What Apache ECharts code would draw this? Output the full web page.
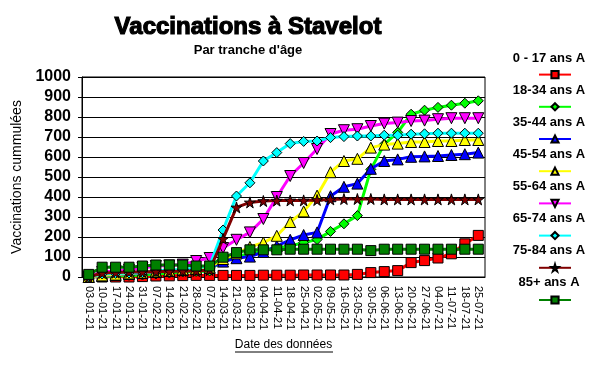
<!DOCTYPE html>
<html>
<head>
<meta charset="utf-8">
<script src="https://cdn.jsdelivr.net/npm/echarts@6/dist/echarts.min.js"></script>
<style>html,body{margin:0;padding:0;background:#fff;}#c{width:608px;height:368px;}</style>
</head>
<body>
<div id="c"></div>
<script>
const dates = ['03-01-21','10-01-21','17-01-21','24-01-21','31-01-21','07-02-21','14-02-21','21-02-21','28-02-21','07-03-21','14-03-21','21-03-21','28-03-21','04-04-21','11-04-21','18-04-21','25-04-21','02-05-21','09-05-21','16-05-21','23-05-21','30-05-21','06-06-21','13-06-21','20-06-21','27-06-21','04-07-21','11-07-21','18-07-21','25-07-21'];
const yTicks = [0,100,200,300,400,500,600,700,800,900,1000];
const seriesNames = ['0 - 17 ans A','18-34 ans A','35-44 ans A','45-54 ans A','55-64 ans A','65-74 ans A','75-84 ans A','85+ ans A'];
const age0_17  = [0,0,0,0,2,5,6,7,8,8, 8,8,8,9,9,9,10,10,10,10, 13,22,27,32,72,82,95,116,166,208];
const age18_34 = [0,3,5,8,10,15,20,25,28,30, 90,105,115,135,145,155,172,187,228,266, 307,538,663,723,814,834,848,859,869,881];
const age35_44 = [0,5,10,15,20,25,30,35,40,45, 77,94,102,125,155,186,210,223,404,451, 467,541,580,588,601,603,605,610,614,622];
const age45_54 = [0,8,12,18,22,28,32,38,42,48, 90,118,150,172,206,275,328,407,524,580, 591,647,662,667,675,675,680,680,685,685];
const age55_64 = [0,25,30,35,45,55,58,62,80,95, 145,186,223,290,400,505,570,640,715,734, 739,755,767,772,780,782,789,794,794,794];
const age65_74 = [0,15,18,20,22,30,35,38,45,55, 235,405,471,580,622,667,678,680,697,702, 705,705,709,709,714,716,719,719,719,719];
const age75_84 = [0,20,22,25,25,28,28,30,30,35, 191,348,373,380,382,383,383,385,388,390, 390,390,388,388,388,388,388,388,388,388];
const age85p   = [13,49,49,49,55,60,60,60,55,55, 99,122,136,136,136,139,139,139,139,139, 139,132,139,139,139,139,139,139,139,139];

const allData = [age0_17, age18_34, age35_44, age45_54, age55_64, age65_74, age75_84, age85p];
const colors = ['#ff0000','#00ff00','#0000ff','#ffff00','#ff00ff','#00ffff','#800000','#008000'];
const star = 'path://M50,0 L61,35 L98,35 L68,57 L79,91 L50,70 L21,91 L32,57 L2,35 L39,35 Z';
const symbols = ['rect','diamond','triangle','triangle','triangle','diamond',star,'rect'];
const symRot = [0,0,0,0,180,0,0,0];
const symSizes = [10,10,11,11,11,10,11,10];
const FONT = '"Liberation Sans", Arial, sans-serif';

const chart = echarts.init(document.getElementById('c'), null, {renderer:'canvas'});
const series = seriesNames.map((n,i)=>({
  name:n, type:'line', data:allData[i], symbol:symbols[i], symbolSize:symSizes[i], symbolRotate:symRot[i],
  showAllSymbol:true, animation:false,
  lineStyle:{color:colors[i], width:3},
  itemStyle:{color:colors[i], borderColor:'#000', borderWidth:1},
  z: 2+i
}));
const legendTexts = seriesNames.map((n,i)=>({
  type:'text', x:549, y:58+32*i,
  style:{text:n, x:0, y:0, align:'center', verticalAlign:'middle', font:'bold 13px ' + FONT, fill:'#000'}
}));
chart.setOption({
  backgroundColor:'#fff',
  animation:false,
  title:[
    {text:'Vaccinations à Stavelot', left:243, top:10, textAlign:'center',
     textStyle:{fontFamily:FONT, fontWeight:'bold', fontSize:24, color:'#000', textBorderColor:'#000', textBorderWidth:1.2}},
    {text:"Par tranche d'âge", left:243, top:39, textAlign:'center',
     textStyle:{fontFamily:FONT, fontWeight:'bold', fontSize:13, color:'#000'}}
  ],
  grid:{left:82, right:123, top:77, bottom:91, show:true, borderColor:'#000', borderWidth:1, backgroundColor:'#fff'},
  legend:{orient:'vertical', left:533, top:65, itemWidth:32, itemHeight:9, itemGap:23,
    formatter:()=>'', data:seriesNames, selectedMode:false, textStyle:{fontSize:1}},
  xAxis:{type:'category', data:dates, boundaryGap:true,
    axisLine:{lineStyle:{color:'#000', width:1}}, axisTick:{show:false},
    axisLabel:{rotate:-90, interval:0, margin:9, color:'#000', fontFamily:FONT, fontSize:11},
    name:'Date des données', nameLocation:'middle', nameGap:62,
    nameTextStyle:{fontFamily:FONT, fontSize:12, color:'#000'}},
  yAxis:{type:'value', min:yTicks[0], max:yTicks[yTicks.length-1], interval:100,
    axisLine:{show:true, lineStyle:{color:'#000'}}, axisTick:{show:true, length:4, lineStyle:{color:'#000'}},
    splitLine:{lineStyle:{color:'#000', width:1}},
    axisLabel:{color:'#000', fontFamily:FONT, fontWeight:'bold', fontSize:16, margin:11, formatter:(v)=>String(v)},
    name:'Vaccinations cummulées', nameLocation:'middle', nameGap:50,
    nameTextStyle:{fontFamily:FONT, fontSize:14, color:'#000'}},
  graphic: legendTexts.concat([
    {type:'line', shape:{x1:235, y1:352, x2:333, y2:352}, style:{stroke:'#000', lineWidth:1}}
  ]),
  series: series
});
</script>
</body>
</html>
